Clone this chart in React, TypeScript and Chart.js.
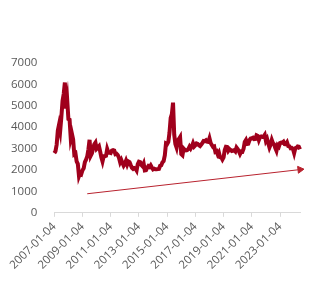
import React, { useEffect, useRef } from "react";
import { Chart, registerables } from "chart.js";

Chart.register(...registerables);

const v2007 = [2790, 2880, 3180, 3840, 4110, 3820, 4470, 5220, 5550, 6090, 4870, 5260];
const v2008 = [4380, 4350, 3470, 3690, 3430, 2740, 2780, 2400, 2290, 1720, 1870, 1820];
const v2009 = [1990, 2080, 2370, 2480, 2630, 2960, 3410, 2670, 2780, 3000, 3200, 3280];
const v2010 = [2990, 3050, 3110, 2870, 2590, 2400, 2640, 2640, 2660, 2980, 2820, 2810];
const v2011 = [2790, 2910, 2930, 2910, 2740, 2760, 2700, 2570, 2360, 2470, 2330, 2200];
const v2012 = [2290, 2430, 2260, 2400, 2370, 2230, 2100, 2050, 2090, 2070, 1980, 2270];
const v2013 = [2390, 2370, 2240, 2180, 2300, 1980, 1990, 2100, 2180, 2140, 2220, 2120];
const v2014 = [2030, 2060, 2030, 2030, 2040, 2050, 2200, 2220, 2360, 2420, 2680, 3240];
const v2015 = [3210, 3310, 3750, 4440, 4610, 5150, 3660, 3210, 3050, 3380, 3450, 3540];
const v2016 = [2740, 2690, 3000, 2940, 2920, 2930, 2980, 3090, 3000, 3100, 3250, 3100];
const v2017 = [3160, 3240, 3220, 3160, 3120, 3190, 3270, 3360, 3350, 3390, 3320, 3310];
const v2018 = [3480, 3260, 3170, 3080, 3100, 2850, 2880, 2730, 2820, 2600, 2590, 2490];
const v2019 = [2590, 2940, 3090, 3080, 2900, 2980, 2930, 2890, 2910, 2930, 2870, 3050];
const v2020 = [2980, 2880, 2750, 2860, 2850, 2990, 3310, 3400, 3220, 3230, 3390, 3470];
const v2021 = [3480, 3510, 3440, 3450, 3620, 3590, 3400, 3540, 3570, 3550, 3560, 3640];
const v2022 = [3360, 3460, 3250, 3050, 3190, 3400, 3250, 3200, 3020, 2890, 3150, 3090];
const v2023 = [3260, 3280, 3270, 3320, 3210, 3200, 3290, 3120, 3110, 3020, 3030, 2980];
const v2024 = [2790, 3020, 3040, 3100, 3090, 2970];

const yearlyValues = [v2007, v2008, v2009, v2010, v2011, v2012, v2013, v2014, v2015, v2016, v2017, v2018, v2019, v2020, v2021, v2022, v2023, v2024];
const firstYear = 2007;

const tickLabels = ["2007-01-04", "2009-01-04", "2011-01-04", "2013-01-04", "2015-01-04", "2017-01-04", "2019-01-04", "2021-01-04", "2023-01-04"];

const trendStartLabel = "2009-05-04";
const trendStartValue = 890;
const trendEndValue = 2020;

export default function App() {
  const ref = useRef<HTMLCanvasElement | null>(null);

  useEffect(() => {
    document.body.style.margin = "0";
    const labels: string[] = [];
    const values: number[] = [];
    yearlyValues.forEach((arr, yi) => {
      arr.forEach((v, mi) => {
        labels.push(`${firstYear + yi}-${String(mi + 1).padStart(2, "0")}-04`);
        values.push(v);
      });
    });
    const startIdx = labels.indexOf(trendStartLabel);
    const lastIdx = labels.length - 1;
    const trend = labels.map((_, i) => (i === startIdx ? trendStartValue : i === lastIdx ? trendEndValue : null));
    const trendRadius = labels.map((_, i) => (i === lastIdx ? 4 : 0));

    const font = { family: "'Open Sans', sans-serif", size: 11.5 };
    const chart = new Chart(ref.current!, {
      type: "line",
      data: {
        labels,
        datasets: [
          {
            data: values,
            borderColor: "#a0001c",
            borderWidth: 4,
            pointRadius: 0,
            tension: 0,
          },
          {
            data: trend,
            borderColor: "#b8222e",
            backgroundColor: "#b8222e",
            borderWidth: 1,
            spanGaps: true,
            pointRadius: trendRadius,
            pointStyle: "triangle",
            rotation: 83.5,
          },
        ],
      },
      options: {
        animation: false,
        responsive: false,
        layout: { padding: { top: 63, left: 2, right: 20, bottom: 20 } },
        plugins: { legend: { display: false }, tooltip: { enabled: false } },
        scales: {
          x: {
            offset: false,
            grid: { display: true, drawOnChartArea: false, drawTicks: true, tickLength: 4, color: "#d9d9d9" },
            border: { display: true, color: "#d9d9d9" },
            ticks: {
              autoSkip: false,
              maxRotation: 45,
              minRotation: 45,
              color: "#595959",
              font,
              callback: (_v: any, idx: number) => (tickLabels.includes(labels[idx]) ? labels[idx] : null),
            },
          },
          y: {
            min: 0,
            max: 7000,
            grid: { display: false },
            border: { display: false },
            ticks: { stepSize: 1000, color: "#595959", font, padding: 9, callback: (v: any) => String(v) },
          },
        },
      },
    });
    return () => chart.destroy();
  }, []);

  return (
    <div style={{ width: 320, height: 295 }}>
      <canvas ref={ref} width={320} height={295} />
    </div>
  );
}
